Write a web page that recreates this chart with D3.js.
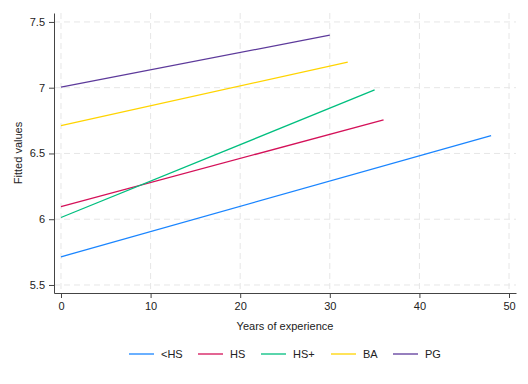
<html>
<script src="https://d3js.org/d3.v7.min.js"></script>
<style>
    body { margin: 0; background: white; }
    svg { font-family: "Liberation Sans", Arial, sans-serif; }
    .grid line { stroke: #e6e6e6; stroke-width: 1px; stroke-dasharray: 6,4; }
    .axis path, .axis line { stroke: #444; }
    .axis text { fill: #222; font-size: 11px; }
    .fit { fill: none; stroke-width: 1.3px; }
    .lbl { fill: #222; font-size: 11px; }
</style>
<svg width=528 height=384></svg>
<script>
    // fitted lines: [start x, start y, end x, end y]
    let groups = ['<HS', 'HS', 'HS+', 'BA', 'PG'];
    let colors = ['#1a85ff', '#d41159', '#00bf7f', '#ffd400', '#5d3a9b'];
    let xStart = [0, 0, 0, 0, 0];
    let xEnd = [48, 36, 35, 32, 30];
    let yStart = [5.714, 6.096, 6.013, 6.712, 7.005];
    let yEnd = [6.636, 6.755, 6.983, 7.195, 7.399];
    let xTicks = [0, 10, 20, 30, 40, 50];
    let yTicks = [5.5, 6, 6.5, 7, 7.5];

    let svg = d3.select('svg');
    let plotL = 54, plotR = 516, plotT = 13, plotB = 293;

    let x = d3.scaleLinear().domain([-0.78, 50.78]).range([plotL, plotR]);
    let y = d3.scaleLinear().domain([5.439, 7.568]).range([plotB, plotT]);

    let grid = svg.append('g').classed('grid', true);
    grid.selectAll('.gx').data(xTicks).enter().append('line')
        .attr('x1', d => x(d)).attr('x2', d => x(d))
        .attr('y1', plotT).attr('y2', plotB);
    grid.selectAll('.gy').data(yTicks).enter().append('line')
        .attr('x1', plotL).attr('x2', plotR)
        .attr('y1', d => y(d)).attr('y2', d => y(d));

    svg.append('g').classed('axis', true)
        .attr('transform', 'translate(0,' + plotB + ')')
        .call(d3.axisBottom(x).tickValues(xTicks).tickSize(5).tickPadding(4).tickSizeOuter(0));
    svg.append('g').classed('axis', true)
        .attr('transform', 'translate(' + plotL + ',0)')
        .call(d3.axisLeft(y).tickValues(yTicks).tickFormat(d3.format('')).tickSize(5).tickPadding(4).tickSizeOuter(0));
    svg.selectAll('.axis text').style('font-family', '"Liberation Sans", Arial, sans-serif');

    let lines = groups.map((g, i) => ({
        name: g, color: colors[i],
        pts: [[xStart[i], yStart[i]], [xEnd[i], yEnd[i]]]
    }));
    let lineGen = d3.line().x(d => x(d[0])).y(d => y(d[1]));
    svg.selectAll('.fit').data(lines).enter().append('path')
        .classed('fit', true)
        .attr('stroke', d => d.color)
        .attr('d', d => lineGen(d.pts));

    svg.append('text').classed('lbl', true)
        .attr('x', (plotL + plotR) / 2).attr('y', 330)
        .attr('text-anchor', 'middle')
        .text('Years of experience');
    svg.append('text').classed('lbl', true)
        .attr('transform', 'translate(22,' + (plotT + plotB) / 2 + ') rotate(-90)')
        .attr('text-anchor', 'middle')
        .text('Fitted values');

    // legend
    let legX = [129, 198, 261, 331, 393];
    let leg = svg.selectAll('.leg').data(lines).enter().append('g')
        .attr('transform', (d, i) => 'translate(' + legX[i] + ',354)');
    leg.append('line').attr('x1', 0).attr('x2', 25).attr('y1', 0).attr('y2', 0)
        .attr('stroke', d => d.color).attr('stroke-width', 1.3);
    leg.append('text').classed('lbl', true)
        .attr('x', 32).attr('y', 4).text(d => d.name);
</script>
</html>
